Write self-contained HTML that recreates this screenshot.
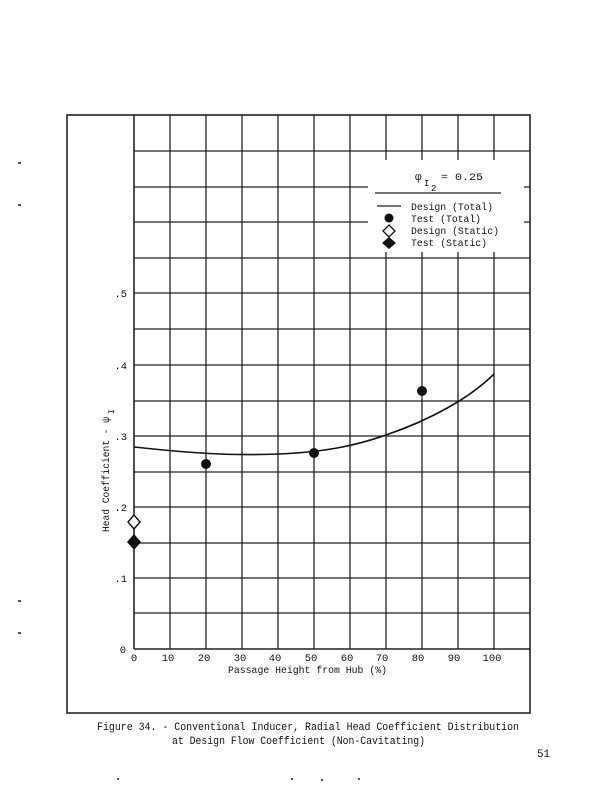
<!DOCTYPE html>
<html><head><meta charset="utf-8"><style>
html,body{margin:0;padding:0;background:#fff}
svg{display:block}
text{font-family:"Liberation Mono",monospace;fill:#111}
</style></head><body>
<svg width="610" height="792" viewBox="0 0 610 792" xmlns="http://www.w3.org/2000/svg">
<rect width="610" height="792" fill="#fff"/>
<g stroke="#222" stroke-width="1.3" fill="none">
<line x1="170" y1="115" x2="170" y2="649"/>
<line x1="206" y1="115" x2="206" y2="649"/>
<line x1="242" y1="115" x2="242" y2="649"/>
<line x1="278" y1="115" x2="278" y2="649"/>
<line x1="314" y1="115" x2="314" y2="649"/>
<line x1="350" y1="115" x2="350" y2="649"/>
<line x1="386" y1="115" x2="386" y2="649"/>
<line x1="422" y1="115" x2="422" y2="649"/>
<line x1="458" y1="115" x2="458" y2="649"/>
<line x1="494" y1="115" x2="494" y2="649"/>
<line x1="134" y1="151" x2="530" y2="151"/>
<line x1="134" y1="187" x2="530" y2="187"/>
<line x1="134" y1="222" x2="530" y2="222"/>
<line x1="134" y1="258" x2="530" y2="258"/>
<line x1="134" y1="293" x2="530" y2="293"/>
<line x1="134" y1="329" x2="530" y2="329"/>
<line x1="134" y1="365" x2="530" y2="365"/>
<line x1="134" y1="401" x2="530" y2="401"/>
<line x1="134" y1="436" x2="530" y2="436"/>
<line x1="134" y1="472" x2="530" y2="472"/>
<line x1="134" y1="507" x2="530" y2="507"/>
<line x1="134" y1="543" x2="530" y2="543"/>
<line x1="134" y1="578" x2="530" y2="578"/>
<line x1="134" y1="613" x2="530" y2="613"/>
<line x1="134" y1="649" x2="530" y2="649" stroke-width="1.6"/>
<line x1="134" y1="115" x2="134" y2="649" stroke-width="1.6"/>
<rect x="67" y="115" width="463" height="598" stroke-width="1.6"/>
</g>
<rect x="368" y="160" width="156" height="92" fill="#fff"/>
<line x1="375" y1="193" x2="501" y2="193" stroke="#222" stroke-width="1.3"/>
<text x="415" y="180" font-size="11">φ</text>
<text x="424" y="186" font-size="9">I</text>
<text x="431" y="191" font-size="9">2</text>
<text x="441" y="180" font-size="10.5" textLength="42" lengthAdjust="spacingAndGlyphs">= 0.25</text>
<line x1="377" y1="206" x2="401" y2="206" stroke="#222" stroke-width="1.3"/>
<text x="411" y="210" font-size="10.5" textLength="82" lengthAdjust="spacingAndGlyphs">Design (Total)</text>
<circle cx="389" cy="218" r="4.5" fill="#111"/>
<text x="411" y="222" font-size="10.5" textLength="70" lengthAdjust="spacingAndGlyphs">Test (Total)</text>
<polygon points="389,225 395,231 389,237 383,231" fill="#fff" stroke="#111" stroke-width="1.3"/>
<text x="411" y="234" font-size="10.5" textLength="88" lengthAdjust="spacingAndGlyphs">Design (Static)</text>
<polygon points="389,237 396,243 389,249 382,243" fill="#111"/>
<text x="411" y="246" font-size="10.5" textLength="76" lengthAdjust="spacingAndGlyphs">Test (Static)</text>
<path fill="none" stroke="#111" stroke-width="1.6" d="M134,447 C190,453 230,456 278,454 C330,452 360,444 386,435 C430,420 470,398 494,374"/>
<circle cx="206" cy="464" r="5" fill="#111"/>
<circle cx="314" cy="453" r="5" fill="#111"/>
<circle cx="422" cy="391" r="5" fill="#111"/>
<polygon points="134,515 140,522 134,529 128,522" fill="#fff" stroke="#111" stroke-width="1.4"/>
<polygon points="134,534 141,542 134,550 127,542" fill="#111"/>
<g font-size="10.5" text-anchor="end">
<text x="127" y="297">.5</text>
<text x="127" y="369">.4</text>
<text x="127" y="440">.3</text>
<text x="127" y="511">.2</text>
<text x="127" y="582">.1</text>
<text x="126" y="653">0</text>
</g>
<g font-size="10.5" text-anchor="middle">
<text x="134" y="661">0</text>
<text x="168" y="661">10</text>
<text x="204" y="661">20</text>
<text x="240" y="661">30</text>
<text x="275" y="661">40</text>
<text x="311" y="661">50</text>
<text x="347" y="661">60</text>
<text x="382" y="661">70</text>
<text x="418" y="661">80</text>
<text x="454" y="661">90</text>
<text x="492" y="661">100</text>
</g>
<text x="228" y="673" font-size="10.5" textLength="159" lengthAdjust="spacingAndGlyphs">Passage Height from Hub (%)</text>
<text transform="translate(109,532) rotate(-90)" font-size="10.5" textLength="115" lengthAdjust="spacingAndGlyphs">Head Coefficient - ψ</text>
<text transform="translate(114,414) rotate(-90)" font-size="8">I</text>
<text x="97" y="730" font-size="10.8" textLength="422" lengthAdjust="spacingAndGlyphs">Figure 34. - Conventional Inducer, Radial Head Coefficient Distribution</text>
<text x="172" y="744" font-size="10.8" textLength="253" lengthAdjust="spacingAndGlyphs">at Design Flow Coefficient (Non-Cavitating)</text>
<text x="537" y="757" font-size="10.8">51</text>
<g fill="#555">
<rect x="18" y="162" width="3" height="2"/><rect x="18" y="204" width="3" height="2"/>
<rect x="18" y="600" width="3" height="2"/><rect x="18" y="632" width="3" height="2"/>
<rect x="117" y="778" width="2" height="2"/><rect x="291" y="778" width="2" height="2"/>
<rect x="321" y="779" width="2" height="2"/><rect x="358" y="778" width="2" height="2"/>
</g>
</svg>
</body></html>
